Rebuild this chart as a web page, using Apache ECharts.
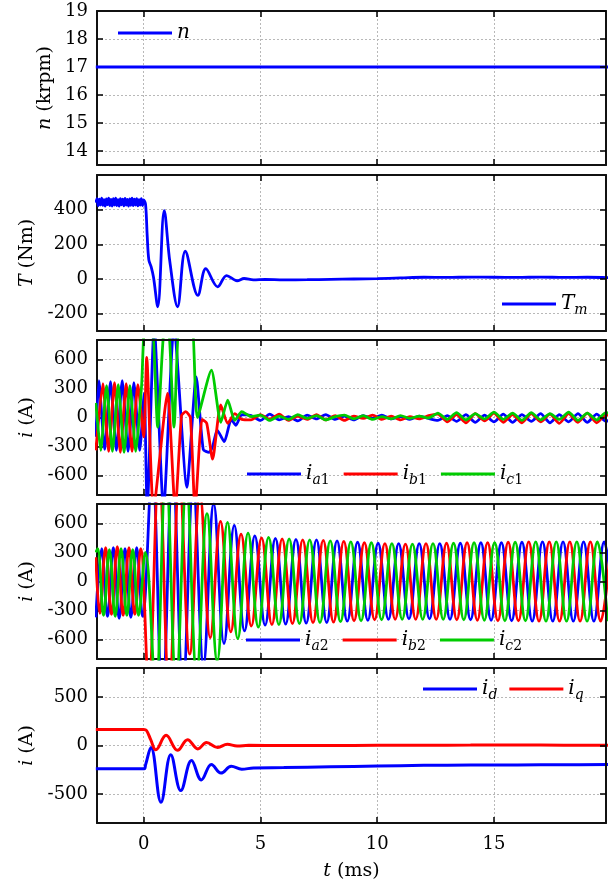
<!DOCTYPE html>
<html>
<head>
<meta charset="utf-8">
<script src="https://cdn.jsdelivr.net/npm/echarts@6/dist/echarts.min.js"></script>
<style>
  html, body { margin: 0; padding: 0; background: #fff; }
  #main { width: 615px; height: 888px; }
</style>
</head>
<body>
<div id="main"></div>
<script>
// time axis (ms)
var tMin = -2, tMax = 19.8;
var tTicks = [0, 5, 10, 15];

// y axes, one per panel (top to bottom)
var yMin = [13.5, -300, -800, -800, -800];
var yMax = [19, 600, 800, 800, 800];
var yTicks = [
  [14, 15, 16, 17, 18, 19],
  [-200, 0, 200, 400],
  [-600, -300, 0, 300, 600],
  [-600, -300, 0, 300, 600],
  [-500, 0, 500]
];
var yNames = ['{it|n} (krpm)', '{it|T} (Nm)', '{it|i} (A)', '{it|i} (A)', '{it|i} (A)'];

// speed n (krpm)
var speedN = [[-2.05, 17], [20, 17]];

// torque Tm (Nm)
var torquePre = [[-2.05,440],[-2.0,464],[-1.95,422],[-1.9,460],[-1.85,427],[-1.8,467],[-1.75,425],[-1.7,458],
  [-1.65,420],[-1.6,462],[-1.55,429],[-1.5,466],[-1.45,423],[-1.4,459],[-1.35,421],[-1.3,463],[-1.25,427],
  [-1.2,466],[-1.15,424],[-1.1,458],[-1.05,420],[-1.0,464],[-0.95,428],[-0.9,461],[-0.85,422],[-0.8,465],
  [-0.75,426],[-0.7,459],[-0.65,421],[-0.6,462],[-0.55,425],[-0.5,466],[-0.45,423],[-0.4,460],[-0.35,427],
  [-0.3,463],[-0.25,422],[-0.2,458],[-0.15,426],[-0.1,464],[-0.05,424],[0.0,457]];
var torquePost = [[0.08,430],[0.15,250],[0.22,110],[0.32,70],[0.42,10],[0.6,-160],[0.88,395],[1.12,100],
  [1.45,-160],[1.78,160],[2.32,-95],[2.66,60],[3.17,-45],[3.55,20],[4.0,-10],[4.3,3],[4.7,-5],[5.2,-3],
  [6,-5],[7,-4],[8,-2],[9,0],[10,2],[11,6],[12,10],[13,9],[14,11],[15,10],[16,9],[17,11],[18,9],[19,10],[20,8]];

// set 1 phase currents (A)
var ia1 = [[-2.05,-200],[-1.92,380],[-1.67,-330],[-1.42,370],[-1.17,-340],[-0.92,380],[-0.67,-350],[-0.42,360],
  [-0.17,-340],[0.02,250],[0.15,-950],[0.45,950],[0.85,-950],[1.3,950],[1.85,-720],[2.25,420],[2.55,-330],
  [2.8,-360],[2.95,-300],[3.15,-130],[3.45,-250],[3.75,-20],[3.95,-80],[4.2,30]];
var ib1 = [[-2.05,-340],[-1.75,350],[-1.5,-350],[-1.25,360],[-1.0,-360],[-0.75,350],[-0.5,-350],[-0.25,340],
  [0.0,-200],[0.13,620],[0.42,-950],[1.02,250],[1.35,-950],[1.62,20],[1.8,60],[2.0,0],[2.2,-950],[2.5,-20],
  [2.7,-60],[2.95,-430],[3.3,130],[3.6,-60],[3.9,40],[4.2,-20]];
var ic1 = [[-2.05,150],[-1.84,-340],[-1.59,330],[-1.34,-350],[-1.09,340],[-0.84,-360],[-0.59,330],[-0.34,-350],
  [-0.09,330],[0.06,950],[0.35,950],[0.6,-100],[0.9,950],[1.05,950],[1.3,-100],[1.55,950],[2.05,950],[2.3,0],
  [2.9,490],[3.3,-50],[3.6,180],[3.9,-30],[4.2,60]];
// after the transient
var tTail = [4.6,5.0,5.4,5.8,6.2,6.6,7.0,7.4,7.8,8.2,8.6,9.0,9.4,9.8,10.2,10.6,11.0,11.4,11.8,12.2,
  12.6,13.0,13.4,13.8,14.2,14.6,15.0,15.4,15.8,16.2,16.6,17.0,17.4,17.8,18.2,18.6,19.0,19.4,19.8,20.2];
var ia1Tail = [20,-30,35,-25,10,-35,25,-15,30,-20,15,-25,20,-10,25,-15,10,-20,15,-10,
  -30,20,-40,30,-50,25,-45,35,-50,30,-40,40,-55,30,-45,40,-50,35,-40,20];
var ib1Tail = [-25,30,-20,35,-30,15,-20,30,-25,20,-30,15,-10,25,-20,15,-25,10,-15,20,
  35,-45,30,-55,40,-35,45,-50,30,-55,40,-45,35,-60,40,-50,45,-55,30,-20];
var ic1Tail = [10,25,-30,15,-20,30,-10,20,-25,10,25,-15,20,-20,10,-15,20,-10,15,-5,
  45,-20,50,-25,40,-15,55,-20,45,-30,50,-25,40,-20,55,-30,45,-25,50,30];

// set 2 phase currents (A), turning points
var ia2 = [[-2.05,-370],[-1.8,340],[-1.55,-360],[-1.3,350],[-1.05,-380],[-0.8,340],[-0.55,-370],[-0.3,350],[-0.05,-360],
  [0.36,1150],[0.80,-1200],[1.24,1150],[1.68,-1100],[2.12,1000],[2.56,-850],[3.00,800],[3.44,-640],[3.88,580],
  [4.32,-510],[4.76,470],[5.20,-450],[5.64,445],[6.08,-440],[6.52,435],[6.96,-430],[7.40,430],[7.84,-425],
  [8.28,420],[8.72,-410],[9.16,405],[9.60,-400],[10.04,395],[10.48,-390],[10.92,390],[11.36,-385],[11.80,390],
  [12.24,-385],[12.68,390],[13.12,-390],[13.56,395],[14.00,-395],[14.44,400],[14.88,-400],[15.32,400],
  [15.76,-405],[16.20,405],[16.64,-410],[17.08,410],[17.52,-410],[17.96,410],[18.40,-410],[18.84,410],
  [19.28,-410],[19.72,410],[20.16,-410]];
var ib2 = [[-2.05,250],[-1.88,-330],[-1.63,350],[-1.38,-340],[-1.13,360],[-0.88,-350],[-0.63,350],[-0.38,-340],[-0.13,340],
  [0.21,-1050],[0.65,1150],[1.09,-1100],[1.53,1050],[1.97,-750],[2.41,900],[2.85,-580],[3.29,620],[3.73,-520],
  [4.17,490],[4.61,-460],[5.05,450],[5.49,-445],[5.93,440],[6.37,-435],[6.81,430],[7.25,-425],[7.69,425],
  [8.13,-420],[8.57,415],[9.01,-405],[9.45,400],[9.89,-395],[10.33,390],[10.77,-390],[11.21,385],[11.65,-390],
  [12.09,390],[12.53,-390],[12.97,395],[13.41,-395],[13.85,400],[14.29,-400],[14.73,400],[15.17,-405],
  [15.61,405],[16.05,-405],[16.49,410],[16.93,-410],[17.37,410],[17.81,-410],[18.25,410],[18.69,-410],
  [19.13,410],[19.57,-410],[20.01,410]];
var ic2 = [[-2.05,300],[-1.97,340],[-1.72,-350],[-1.47,330],[-1.22,-360],[-0.97,340],[-0.72,-350],[-0.47,330],[-0.22,-350],
  [0.07,300],[0.51,-1100],[0.95,1150],[1.39,-1050],[1.83,1000],[2.27,-950],[2.71,700],[3.15,-820],[3.59,610],
  [4.03,-590],[4.47,500],[4.91,-470],[5.35,455],[5.79,-445],[6.23,440],[6.67,-435],[7.11,430],[7.55,-425],
  [7.99,420],[8.43,-415],[8.87,410],[9.31,-405],[9.75,400],[10.19,-395],[10.63,390],[11.07,-390],[11.51,385],
  [11.95,-390],[12.39,390],[12.83,-390],[13.27,395],[13.71,-395],[14.15,400],[14.59,-400],[15.03,400],
  [15.47,-405],[15.91,405],[16.35,-405],[16.79,410],[17.23,-410],[17.67,410],[18.11,-410],[18.55,410],
  [18.99,-410],[19.43,410],[19.87,-410]];

// dq currents (A)
var idCur = [[-2.05,-240],[-0.5,-240],[0.02,-240],[0.08,-200],[0.31,-20],[0.74,-585],[1.16,-95],[1.59,-465],
  [2.05,-155],[2.47,-355],[2.9,-195],[3.31,-285],[3.75,-215],[4.2,-245],[4.7,-232],[6,-228],[8,-220],
  [10,-212],[12,-205],[14,-202],[16,-200],[18,-198],[20,-197]];
var iqCur = [[-2.05,165],[-0.5,165],[0.0,165],[0.12,155],[0.3,60],[0.52,-45],[0.96,105],[1.45,-50],[1.88,60],
  [2.32,-35],[2.69,30],[3.17,-20],[3.58,12],[4.0,-5],[4.5,2],[6,0],[8,0],[10,2],[12,3],[14,4],[16,5],[18,3],[20,3]];

var BLUE = '#0000ff', RED = '#ff0000', GREEN = '#00cc00';
var FONT = 'DejaVu Serif';

function withTail(head, vals) {
  return head.concat(tTail.map(function (t, i) { return [t, vals[i]]; }));
}

// layout of the five stacked panels
var gridLeft = 97, gridWidth = 509;
var panelTop = [11, 175, 340, 504, 668];
var panelHeight = [154, 156, 155, 155, 155];
var nameGaps = [40, 56, 56, 56, 56];

var grids = [], xAxes = [], yAxes = [];
var tickStyle = { inside: true, length: 6, lineStyle: { color: '#000', width: 1.5 } };
var lineStyleAxis = { show: true, onZero: false, lineStyle: { color: '#111', width: 2 } };
var gridLine = { show: true, lineStyle: { color: '#b8b8b8', width: 1, type: [2, 2] } };
var nameStyle = { color: '#000', fontFamily: FONT, fontSize: 19,
  rich: { it: { fontFamily: FONT, fontStyle: 'italic', fontSize: 19, color: '#000' } } };

for (var p = 0; p < 5; p++) {
  grids.push({ left: gridLeft, top: panelTop[p], width: gridWidth, height: panelHeight[p],
    containLabel: false, outerBoundsMode: 'none' });
  var last = p === 4;
  xAxes.push({
    type: 'value', gridIndex: p, min: tMin, max: tMax,
    axisLine: lineStyleAxis,
    axisTick: Object.assign({ customValues: tTicks }, tickStyle),
    axisLabel: { show: last, customValues: tTicks, margin: 12, color: '#000', fontFamily: FONT, fontSize: 18 },
    splitLine: gridLine,
    name: last ? '{it|t} (ms)' : '',
    nameLocation: 'middle', nameGap: 39,
    nameTextStyle: nameStyle
  });
  yAxes.push({
    type: 'value', gridIndex: p, min: yMin[p], max: yMax[p],
    axisLine: lineStyleAxis,
    axisTick: Object.assign({ customValues: yTicks[p] }, tickStyle),
    axisLabel: { customValues: yTicks[p], margin: 9, color: '#000', fontFamily: FONT, fontSize: 18 },
    splitLine: gridLine,
    name: yNames[p], nameLocation: 'middle', nameGap: nameGaps[p],
    nameTextStyle: nameStyle
  });
}
// mirrored axes for the frame and ticks on top and right
for (var q = 0; q < 5; q++) {
  xAxes.push({
    type: 'value', gridIndex: q, position: 'top', min: tMin, max: tMax, z: 5,
    axisLine: lineStyleAxis,
    axisTick: Object.assign({ customValues: tTicks }, tickStyle),
    axisLabel: { show: false }, splitLine: { show: false }
  });
  yAxes.push({
    type: 'value', gridIndex: q, position: 'right', min: yMin[q], max: yMax[q], z: 5,
    axisLine: lineStyleAxis,
    axisTick: Object.assign({ customValues: yTicks[q] }, tickStyle),
    axisLabel: { show: false }, splitLine: { show: false }
  });
}

function mkSeries(name, panel, color, data, width, smooth) {
  return {
    name: name, type: 'line', xAxisIndex: panel, yAxisIndex: panel,
    data: data, showSymbol: false, smooth: smooth, color: color,
    lineStyle: { color: color, width: width }, clip: true
  };
}

var series = [
  mkSeries('n', 0, BLUE, speedN, 3, false),
  mkSeries('Tm', 1, BLUE, torquePre.concat(torquePost), 2.8, 0.35),
  mkSeries('ia1', 2, BLUE, withTail(ia1, ia1Tail), 2.8, 0.2),
  mkSeries('ib1', 2, RED, withTail(ib1, ib1Tail), 2.8, 0.2),
  mkSeries('ic1', 2, GREEN, withTail(ic1, ic1Tail), 2.8, 0.2),
  mkSeries('ia2', 3, BLUE, ia2, 2.8, 0.4),
  mkSeries('ib2', 3, RED, ib2, 2.8, 0.4),
  mkSeries('ic2', 3, GREEN, ic2, 2.8, 0.4),
  mkSeries('id', 4, BLUE, idCur, 3, 0.4),
  mkSeries('iq', 4, RED, iqCur, 3, 0.4)
];

var legendText = {
  n: '{v|n}', Tm: '{v|T}{s|m}',
  ia1: '{v|i}{s|a}{r|1}', ib1: '{v|i}{s|b}{r|1}', ic1: '{v|i}{s|c}{r|1}',
  ia2: '{v|i}{s|a}{r|2}', ib2: '{v|i}{s|b}{r|2}', ic2: '{v|i}{s|c}{r|2}',
  id: '{v|i}{s|d}', iq: '{v|i}{s|q}'
};
var legendRich = {
  v: { fontFamily: FONT, fontStyle: 'italic', fontSize: 20, lineHeight: 26, color: '#000' },
  s: { fontFamily: FONT, fontStyle: 'italic', fontSize: 14, lineHeight: 26, verticalAlign: 'bottom', color: '#000' },
  r: { fontFamily: FONT, fontSize: 14, lineHeight: 26, verticalAlign: 'bottom', color: '#000' }
};
function mkLegend(names, left, top, gap) {
  return {
    data: names, left: left, top: top, orient: 'horizontal', itemGap: gap, z: 6,
    icon: 'rect', itemWidth: 54, itemHeight: 3, padding: 0,
    selectedMode: false,
    formatter: function (nm) { return legendText[nm]; },
    textStyle: { rich: legendRich }
  };
}

var chart = echarts.init(document.getElementById('main'), null, { renderer: 'canvas' });
chart.setOption({
  backgroundColor: '#fff',
  animation: false,
  grid: grids,
  xAxis: xAxes,
  yAxis: yAxes,
  legend: [
    mkLegend(['n'], 118, 23, 10),
    mkLegend(['Tm'], 502, 294, 10),
    mkLegend(['ia1', 'ib1', 'ic1'], 247, 464, 14),
    mkLegend(['ia2', 'ib2', 'ic2'], 246, 630, 14),
    mkLegend(['id', 'iq'], 423, 679, 12)
  ],
  series: series
});
</script>
</body>
</html>
